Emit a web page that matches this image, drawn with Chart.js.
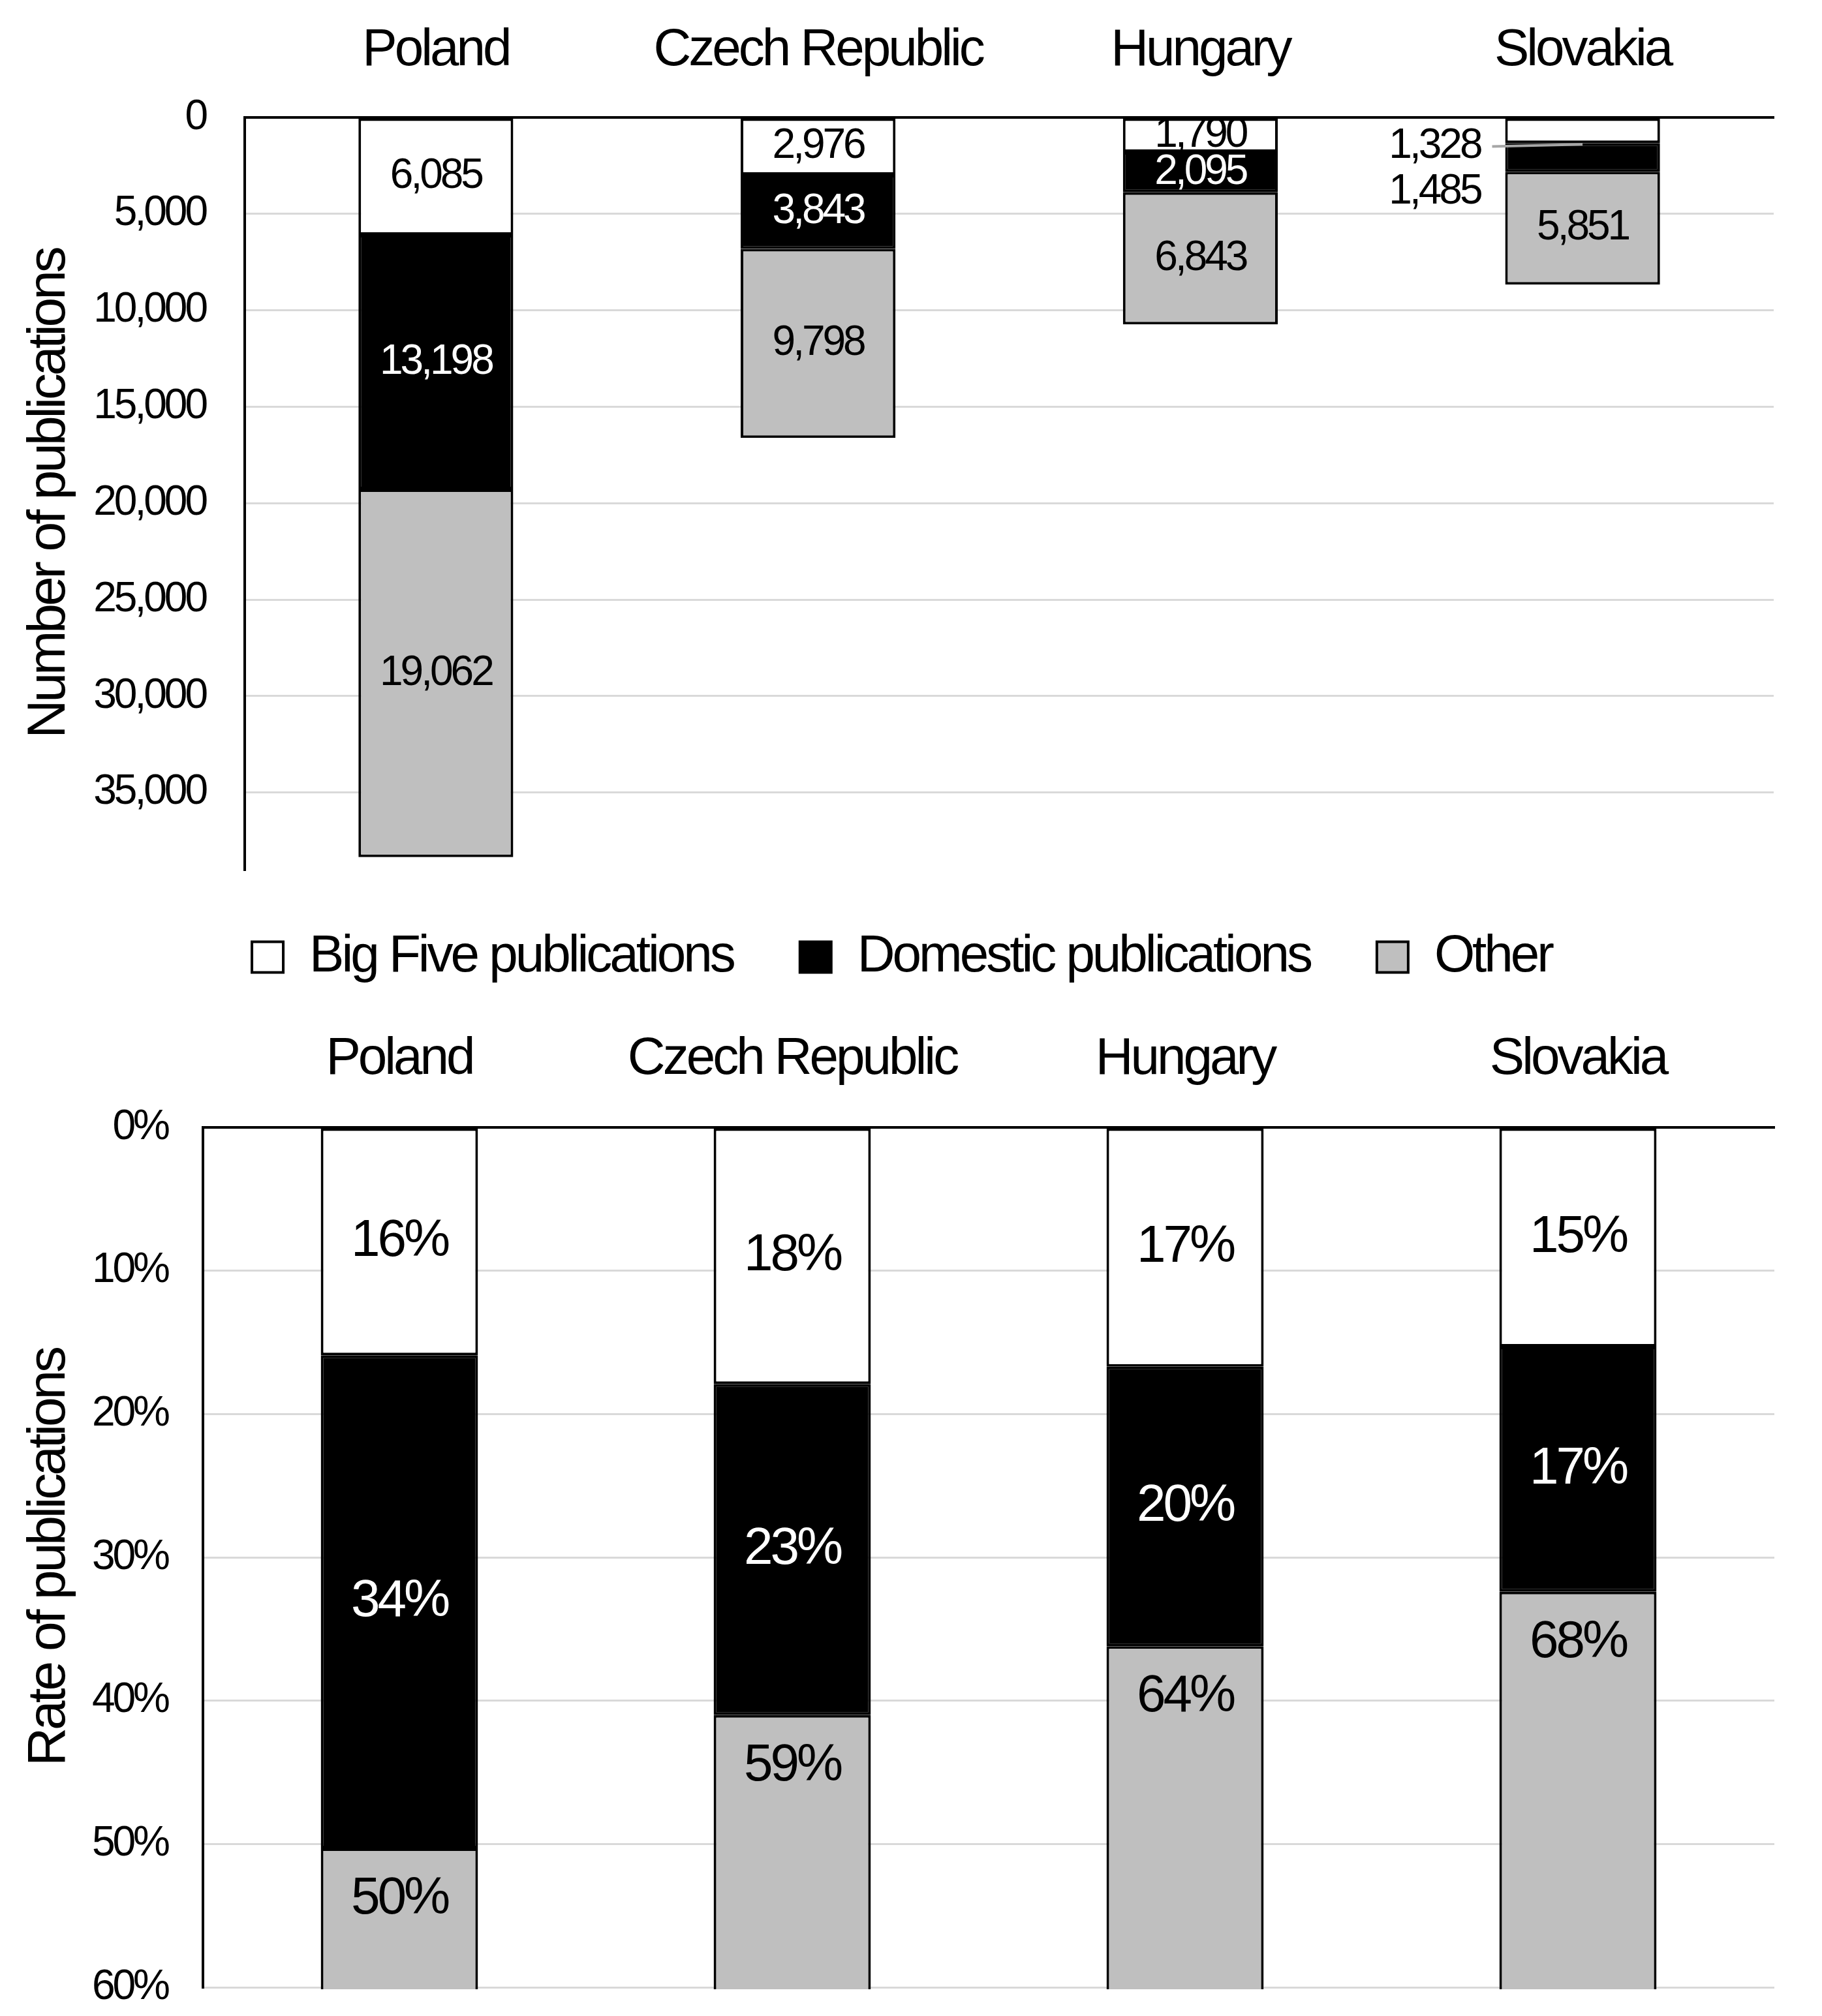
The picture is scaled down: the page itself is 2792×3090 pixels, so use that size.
<!DOCTYPE html>
<html>
<head>
<meta charset="utf-8">
<title>Publications by country</title>
<script src="https://cdn.jsdelivr.net/npm/chart.js@4.4.1/dist/chart.umd.min.js"></script>
<style>
  html, body { margin: 0; padding: 0; background: #fff; }
  body { width: 2792px; height: 3090px; position: relative; overflow: hidden; }
  .panel { position: absolute; left: 0; width: 2792px; }
  #countsBox { top: 0; height: 1400px; }
  #ratesBox { top: 1325px; height: 1765px; }
</style>
</head>
<body>
<div class="panel" id="countsBox"><canvas id="countsChart"></canvas></div>
<div class="panel" id="ratesBox"><canvas id="ratesChart"></canvas></div>
<script>
// data
const countries = ['Poland', 'Czech Republic', 'Hungary', 'Slovakia'];
const seriesNames = ['Big Five publications', 'Domestic publications', 'Other'];

const bigFiveCounts = [6085, 2976, 1790, 1328];
const domesticCounts = [13198, 3843, 2095, 1485];
const otherCounts = [19062, 9798, 6843, 5851];

const bigFiveRates = [15.9, 17.9, 16.7, 15.3];
const domesticRates = [34.4, 23.1, 19.5, 17.1];
const otherRates = [49.7, 59.0, 63.8, 67.5];

const countTicks = [0, 5000, 10000, 15000, 20000, 25000, 30000, 35000];
const rateTicks = [0, 10, 20, 30, 40, 50, 60];

const FONT = "'Liberation Sans', Arial, sans-serif";
const SPACING = '-4px';
const fills = ['#FFFFFF', '#000000', '#BFBFBF'];
const labelColors = ['#000000', '#FFFFFF', '#000000'];

// where the bottom panel's plot starts, page coords
const RATES_TOP = 1325;
const RATES_PLOT_TOP = 1728;

Chart.defaults.font.family = FONT;
Chart.defaults.color = '#000';

/**
 * Text in the original is set a little tight
 */
const tightText = {
    id: 'tightText',
    beforeUpdate(chart) { chart.ctx.letterSpacing = SPACING; },
    beforeDraw(chart) { chart.ctx.letterSpacing = SPACING; }
};

/**
 * Value labels inside (or beside) each stacked segment
 */
const segmentLabels = {
    id: 'segmentLabels',
    afterDatasetsDraw(chart, args, opts) {
        const ctx = chart.ctx;
        ctx.save();
        ctx.letterSpacing = SPACING;
        ctx.font = opts.size + 'px ' + FONT;
        ctx.textBaseline = 'middle';

        chart.data.datasets.forEach((ds, di) => {
            chart.getDatasetMeta(di).data.forEach((bar, i) => {
                const p = bar.getProps(['x', 'y', 'base', 'width'], true);
                const start = Math.min(p.y, p.base);
                const end = Math.max(p.y, p.base);
                const text = opts.format(ds.data[i]);
                const moved = (opts.outside || []).find(o => o.index === i && o.dataset === di);

                if (moved) {
                    const lx = p.x - p.width / 2 - moved.gap;
                    const ly = (start + end) / 2 + moved.dy;
                    ctx.textAlign = 'right';
                    ctx.fillStyle = '#000';
                    ctx.fillText(text, lx, ly);
                    if (moved.leader) {
                        ctx.strokeStyle = '#A6A6A6';
                        ctx.lineWidth = 4;
                        ctx.beginPath();
                        ctx.moveTo(lx + 18, ly);
                        ctx.lineTo(p.x, end + 2);
                        ctx.stroke();
                    }
                    return;
                }

                let ty = (start + end) / 2;
                if (opts.baseAnchored && opts.baseAnchored.includes(di)) {
                    ty = start + opts.baseOffset;
                }
                ctx.textAlign = 'center';
                ctx.fillStyle = labelColors[di];
                ctx.fillText(text, p.x, ty);
            });
        });
        ctx.restore();
    }
};

function makeDatasets(values, barPct) {
    return values.map((data, k) => ({
        label: seriesNames[k],
        data: data,
        backgroundColor: fills[k],
        borderColor: '#000',
        borderWidth: 4,
        borderSkipped: false,
        barPercentage: barPct,
        categoryPercentage: 1,
        clip: 3
    }));
}

function yAxis(ticks, fmt, title, padding, width, max, titlePad) {
    return {
        stacked: true,
        reverse: true,
        min: 0,
        max: max,
        grid: { color: '#D9D9D9', lineWidth: 3, drawTicks: false },
        border: { display: true, color: '#000', width: 4 },
        ticks: { color: '#000', font: { size: 64 }, padding: padding, callback: fmt },
        title: { display: true, text: title, color: '#000', font: { size: 82 }, padding: { top: titlePad, bottom: 0 } },
        afterBuildTicks: s => { s.ticks = ticks.map(v => ({ value: v })); },
        afterFit: s => {
            s.width = width;
            s.paddingTop = 0;
            s.paddingBottom = 0;
        }
    };
}

function xAxis(padding, heightFn) {
    return {
        position: 'top',
        stacked: true,
        grid: { display: false },
        border: { display: true, color: '#000', width: 4 },
        ticks: { color: '#000', font: { size: 80 }, padding: padding, maxRotation: 0, autoSkip: false },
        afterFit: s => {
            s.height = heightFn(s);
            s.paddingLeft = 0;
            s.paddingRight = 0;
        }
    };
}

// counts chart
new Chart(document.getElementById('countsChart'), {
    type: 'bar',
    data: {
        labels: countries,
        datasets: makeDatasets([bigFiveCounts, domesticCounts, otherCounts], 0.405)
    },
    options: {
        responsive: true,
        maintainAspectRatio: false,
        animation: false,
        layout: { padding: { top: 0, right: 74, bottom: 67, left: 0 } },
        plugins: {
            legend: { display: false },
            tooltip: { enabled: false },
            segmentLabels: {
                size: 64,
                format: v => v.toLocaleString('en-US'),
                outside: [
                    { index: 3, dataset: 0, gap: 38, dy: 24, leader: true },
                    { index: 3, dataset: 1, gap: 38, dy: 53 }
                ]
            }
        },
        scales: {
            x: xAxis(46, () => 180),
            y: yAxis(countTicks, v => v.toLocaleString('en-US'), 'Number of publications', 60, 375, 39000, 27)
        }
    },
    plugins: [tightText, segmentLabels]
});

// rates chart, carries the shared legend
new Chart(document.getElementById('ratesChart'), {
    type: 'bar',
    data: {
        labels: countries,
        datasets: makeDatasets([bigFiveRates, domesticRates, otherRates], 0.4)
    },
    options: {
        responsive: true,
        maintainAspectRatio: false,
        animation: false,
        layout: { padding: { top: 0, right: 73, bottom: 44, left: 45 } },
        plugins: {
            legend: {
                display: true,
                position: 'top',
                labels: { color: '#000', font: { size: 80 }, boxWidth: 48, boxHeight: 47, padding: 102 }
            },
            tooltip: { enabled: false },
            segmentLabels: {
                size: 80,
                format: v => Math.round(v) + '%',
                baseAnchored: [2],
                baseOffset: 78
            }
        },
        scales: {
            x: xAxis(48, s => RATES_PLOT_TOP - RATES_TOP - (s.chart.legend ? s.chart.legend.height : 0)),
            y: yAxis(rateTicks, v => v + '%', 'Rate of publications', 54, 311 - 45, 60, -18)
        }
    },
    plugins: [tightText, segmentLabels]
});
</script>
</body>
</html>
